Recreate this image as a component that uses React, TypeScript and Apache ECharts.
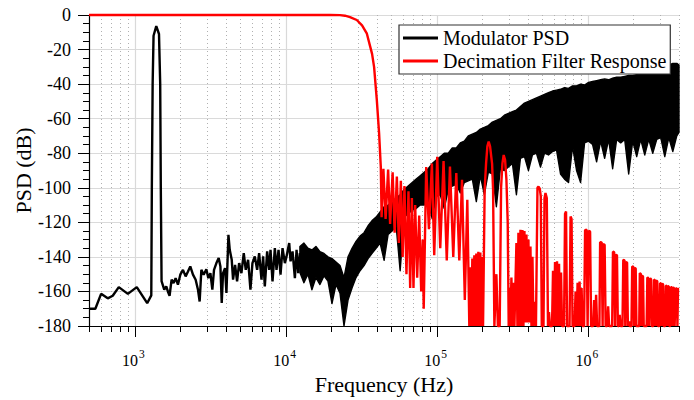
import React, { useEffect, useRef } from "react";
import * as echarts from "echarts";

const FONT = '"Liberation Serif", "Times New Roman", Times, serif';

// Frequencies are stored as log10(Hz), magnitudes in dB.
// Modulator PSD, low-frequency part (single trace incl. the test tone).
const psdLineLog10Hz = [
  2.699, 2.741, 2.779, 2.823, 2.856, 2.896, 2.956, 3.015, 3.084, 3.111,
  3.1147, 3.12, 3.126, 3.144, 3.162, 3.17, 3.174, 3.179,
  3.1967, 3.21, 3.2208, 3.232, 3.2454, 3.2586, 3.272, 3.2873, 3.303, 3.3205,
  3.3382, 3.3537, 3.369, 3.3868, 3.4045, 3.42, 3.431, 3.4423, 3.4576, 3.4753,
  3.4885, 3.502, 3.515, 3.526, 3.5418, 3.557, 3.5683, 3.577, 3.5858, 3.599,
  3.6081, 3.6214, 3.63, 3.6432, 3.652, 3.6654, 3.6786, 3.692, 3.7073, 3.7228,
  3.736, 3.7515, 3.767, 3.7802, 3.7957, 3.8112, 3.8245, 3.84, 3.851, 3.862,
  3.8775, 3.8908, 3.8997, 3.913, 3.9284, 3.9395, 3.9528, 3.966, 3.9793, 3.9947,
  4.0058, 4.0235, 4.0323, 4.0455, 4.061, 4.0721, 4.083, 4.094,
];
const psdLineDb = [
  -170, -170, -161.4, -164, -162.5, -157.5, -161.4, -157.5, -166.8, -162.3,
  -100, -40, -12, -6.4, -11, -40, -100, -154,
  -159, -157.1, -160, -162.5, -153.2, -155.2, -152.3, -156.1, -150.3, -147.5,
  -151.3, -148.4, -145.5, -150.3, -153.2, -159, -165.8, -147.5, -150.3, -147.1,
  -152.3, -149.4, -159, -147.5, -143.6, -140.7, -145.5, -166.7, -149.4, -146.5,
  -160.9, -127.2, -135.9, -141.7, -153.2, -144.6, -154.2, -143.6, -149.4, -137.8,
  -147.5, -141.7, -159, -143.6, -139.7, -147.5, -137.8, -153.2, -139.7, -157.1,
  -136.8, -147.5, -135.9, -154.2, -134.9, -147.5, -135.9, -150.3, -134.9, -143.6,
  -139.7, -132, -142.6, -136.8, -152.3, -135.9, -149.4, -137.8,
];

// Modulator PSD, high-frequency noise band: upper and lower envelope.
const bandLog10Hz = [
  4.0942, 4.1207, 4.1472, 4.1737, 4.2003, 4.2268, 4.2533, 4.2798, 4.3064, 4.3329,
  4.3594, 4.3859, 4.4125, 4.439, 4.4655, 4.492, 4.5186, 4.5451, 4.5716, 4.5981,
  4.6247, 4.6512, 4.6777, 4.7042, 4.7308, 4.7573, 4.7838, 4.8103, 4.8369, 4.8634,
  4.8899, 4.9164, 4.943, 4.9695, 4.996, 5.0225, 5.0491, 5.0756, 5.1021, 5.1286,
  5.1552, 5.1817, 5.2082, 5.2347, 5.2613, 5.2878, 5.3143, 5.3408, 5.3674, 5.3939,
  5.4204, 5.4469, 5.4735, 5.5, 5.5265, 5.553, 5.5796, 5.6061, 5.6326, 5.6591,
  5.6857, 5.7122, 5.7387, 5.7652, 5.7918, 5.8183, 5.8448, 5.8713, 5.8979, 5.9244,
  5.9509, 5.9774, 6.004, 6.0305, 6.057, 6.0836, 6.1101, 6.1366, 6.1631, 6.1897,
  6.2162, 6.2427, 6.2692, 6.2958, 6.3223, 6.3488, 6.3753, 6.4019, 6.4284, 6.4549,
  6.4814, 6.508, 6.5345, 6.561, 6.5875, 6.602,
];
const bandTopDb = [
  -134, -132, -135, -136, -134, -137, -138, -140, -141, -143,
  -145, -152, -140, -135, -131, -128, -126, -122, -119, -117,
  -114, -111, -110, -108, -106, -104, -101, -99, -97, -95,
  -93, -91, -89, -86, -84, -82, -80, -80, -77, -77,
  -74, -73, -70, -69, -68, -66, -65, -64, -62, -61,
  -60, -58, -57, -56, -55, -53, -51, -50, -49, -48,
  -47, -46, -45, -44, -43.5, -43, -42, -42.5, -41, -41,
  -40, -40.5, -39, -38.5, -38, -37.5, -37, -37.5, -36.5, -36,
  -36, -35.5, -35, -35, -34.5, -34, -34, -33, -32.5, -32,
  -31, -30, -29, -28, -28, -29,
];
const bandBottomDb = [
  -149, -155, -150, -159, -152, -156, -151, -154, -167, -156,
  -161, -180, -165, -158, -152, -148, -145, -141, -138, -135,
  -132, -142, -127, -125, -122, -148, -117, -115, -113, -112,
  -110, -110, -108, -118, -105, -104, -112, -101, -99, -98,
  -103, -97, -96, -95, -108, -93, -104, -91, -92, -111,
  -89, -90, -88, -86, -104, -83, -82, -90, -81, -80,
  -88, -80, -81, -79, -78, -92, -95, -97, -76, -90,
  -97, -74, -73, -75, -85, -73, -83, -72, -89, -72,
  -74, -72, -92, -73, -82, -72, -81, -72, -80, -72,
  -71, -82, -71, -79, -70, -68,
];

// Decimation filter magnitude response.
const filterLog10Hz = [
  2.699, 4.2931, 4.3594, 4.3926, 4.4257, 4.4702, 4.5053, 4.5365, 4.5584, 4.5716,
  4.5849, 4.6028, 4.6181, 4.6294, 4.6347, 4.6466, 4.6612, 4.6778, 4.691, 4.7076,
  4.7209, 4.7355, 4.7487, 4.762, 4.7739, 4.7858, 4.7991, 4.8124, 4.8236, 4.8349,
  4.8455, 4.8568, 4.87, 4.8833, 4.8966, 4.9065, 4.9132, 4.9297, 4.9476, 4.9675,
  4.9828, 5.0027, 5.0226, 5.0445, 5.0657, 5.0869, 5.1088, 5.1287, 5.1486, 5.1665,
  5.1851, 5.2016, 5.2149, 5.2215, 5.2281, 5.2348, 5.2414, 5.248, 5.2547, 5.2613,
  5.2679, 5.2746, 5.2812, 5.2878, 5.2945, 5.3011, 5.3057, 5.3164, 5.3257, 5.3343,
  5.3429, 5.3522, 5.3655, 5.3721, 5.3807, 5.394, 5.4039, 5.4158, 5.4251, 5.4337,
  5.4423, 5.4516, 5.4602, 5.4689, 5.4755, 5.4801, 5.4868, 5.4934, 5.5, 5.5066,
  5.5133, 5.5265, 5.5332, 5.5398, 5.5464, 5.5531, 5.5597, 5.5663, 5.573, 5.5796,
  5.5862, 5.5929, 5.5995, 5.6061, 5.6128, 5.6194, 5.626, 5.6326, 5.6393, 5.6459,
  5.6558, 5.6658, 5.6724, 5.681, 5.6877, 5.6943, 5.7056, 5.7122, 5.7188, 5.7274,
  5.7354, 5.742, 5.7487, 5.762, 5.7686, 5.7752, 5.7819, 5.7885, 5.7951, 5.8018,
  5.8084, 5.815, 5.8217, 5.8283, 5.8415, 5.8482, 5.8548, 5.8614, 5.878, 5.8847,
  5.8913, 5.8979, 5.9112, 5.9178, 5.9244, 5.9311, 5.9377, 5.9443, 5.951, 5.9576,
  5.9642, 5.9742, 5.9808, 5.9907, 5.9974, 6.004, 6.0139, 6.0206, 6.0338, 6.0405,
  6.0471, 6.0537, 6.0604, 6.0756, 6.0803, 6.0902, 6.0968, 6.1008, 6.1101, 6.1167,
  6.1267, 6.1333, 6.1399, 6.1599, 6.1652, 6.1731, 6.1791, 6.183, 6.1917, 6.1976,
  6.2043, 6.2096, 6.2162, 6.2282, 6.2334, 6.2414, 6.2467, 6.2507, 6.2586, 6.2639,
  6.2725, 6.2758, 6.2878, 6.2924, 6.3004, 6.305, 6.309, 6.3156, 6.3203, 6.3389,
  6.3429, 6.3502, 6.3541, 6.3575, 6.3641, 6.3687, 6.388, 6.3926, 6.3992, 6.4039,
  6.4105, 6.4171, 6.4218, 6.4317, 6.4364, 6.4423, 6.447, 6.4516, 6.4582, 6.4629,
  6.4722, 6.4768, 6.4828, 6.4868, 6.4907, 6.4967, 6.5013, 6.5106, 6.5146, 6.5205,
  6.5245, 6.5285, 6.5345, 6.5385, 6.5444, 6.5484, 6.5544, 6.5584, 6.563, 6.569,
  6.573, 6.577, 6.5809, 6.5876, 6.5916, 6.5955, 6.602,
];
const filterDb = [
  0, 0, -0.1, -0.4, -1.2, -2.9, -6, -10.6, -18, -22.5,
  -30, -49, -68.5, -88, -117, -89, -118, -89.5, -121, -91,
  -126, -93.5, -132, -96, -140, -99, -150, -102, -158, -106,
  -158, -110, -152, -116, -160, -130, -170, -88, -124, -86,
  -139, -82, -135, -84.5, -142, -87.7, -140, -91.5, -142, -95.4,
  -165, -107, -180, -146, -180, -141, -180, -139, -180, -138,
  -180, -137, -180, -137.5, -180, -140, -180, -101, -86, -76,
  -73.3, -76, -86, -101, -180, -150, -180, -180, -100, -86,
  -81, -84, -95, -120, -180, -158, -180, -152, -180, -155,
  -180, -132, -180, -126, -180, -124.3, -180, -124.5, -180, -125,
  -178, -127, -178, -130, -178, -134, -180, -140, -180, -166,
  -180, -100, -99.3, -100.5, -105, -180, -180, -106, -103, -106,
  -180, -172, -180, -180, -148, -180, -143, -180, -142.6, -180,
  -144, -180, -149, -180, -180, -115, -113.7, -180, -180, -116.6,
  -118, -180, -180, -160, -180, -155, -180, -154.2, -180, -158,
  -180, -180, -124.5, -124.3, -180, -125, -125.3, -180, -180, -165,
  -180, -162, -180, -180, -131.5, -131.6, -180, -132.6, -133, -180,
  -180, -168.6, -180, -180, -137, -137.2, -180, -138.8, -139, -180,
  -180, -173.5, -180, -180, -141.7, -142, -180, -143, -143.3, -180,
  -177.3, -180, -180, -145.5, -145.8, -180, -146.5, -146.7, -180, -180,
  -149.4, -150, -180, -151, -151.3, -180, -180, -152, -152.2, -180,
  -152.6, -152.8, -180, -180, -153.2, -153.4, -180, -153.8, -154, -180,
  -180, -155.2, -155.3, -180, -155.6, -155.8, -180, -180, -156.7, -156.8,
  -180, -157, -157.1, -180, -180, -157.5, -157.6, -180, -157.8, -157.9,
  -180, -180, -158.2, -158.3, -180, -158.5, -158.6,
];

// Axis ticks and tick labels
const decadeHz = [1e3, 1e4, 1e5, 1e6];
const decadeExponent = ["3", "4", "5", "6"];
const minorHz = [
  500, 600, 700, 800, 900,
  2000, 3000, 4000, 5000, 6000, 7000, 8000, 9000,
  20000, 30000, 40000, 50000, 60000, 70000, 80000, 90000,
  200000, 300000, 400000, 500000, 600000, 700000, 800000, 900000,
  2000000, 3000000, 4000000,
];
const yTickDb = [0, -20, -40, -60, -80, -100, -120, -140, -160, -180];
const xMinHz = 500;
const xMaxHz = 4000000;
const yMinDb = -180;
const yMaxDb = 0;
const yStepDb = 20;

export default function App() {
  const ref = useRef<HTMLDivElement>(null);

  useEffect(() => {
    if (!ref.current) return;
    const chart = echarts.init(ref.current, null, { renderer: "svg" });
    const toHz = (e: number) => Math.pow(10, e);

    const psdLine = psdLineLog10Hz.map((e, i) => [toHz(e), psdLineDb[i]]);
    const band = bandLog10Hz.map((e, i) => [toHz(e), bandBottomDb[i], bandTopDb[i]]);
    const filter = filterLog10Hz.map((e, i) => [toHz(e), filterDb[i]]);
    const gridData = [
      ...minorHz.map((f) => [f, -90, 0]),
      ...decadeHz.map((f) => [f, -90, 1]),
    ];
    const xLabelData = decadeHz.map((f, i) => [f, yMinDb, decadeExponent[i]]);
    const yLabelData = yTickDb.map((v) => [xMinHz, v]);

    const option: any = {
      animation: false,
      backgroundColor: "#ffffff",
      textStyle: { fontFamily: FONT, color: "#000" },
      grid: {
        left: 89,
        right: 15,
        top: 15,
        bottom: 74,
        containLabel: false,
        outerBoundsMode: "none",
      },
      legend: {
        orient: "vertical",
        left: 399,
        top: 25,
        padding: [3, 4, 3, 4],
        itemGap: 3,
        itemWidth: 35,
        itemHeight: 3,
        icon: "rect",
        backgroundColor: "#ffffff",
        borderColor: "#333333",
        borderWidth: 1.2,
        borderRadius: 0,
        textStyle: { fontFamily: FONT, fontSize: 20, color: "#000" },
        data: ["Modulator PSD", "Decimation Filter Response"],
      },
      xAxis: {
        type: "log",
        logBase: 10,
        min: xMinHz,
        max: xMaxHz,
        name: "Frequency (Hz)",
        nameLocation: "middle",
        nameGap: 47,
        nameMoveOverlap: false,
        nameTextStyle: { fontFamily: FONT, fontSize: 22, color: "#000" },
        axisLine: { show: true, onZero: false, lineStyle: { color: "#000", width: 1.2 } },
        axisTick: { show: false },
        minorTick: { show: false },
        splitLine: { show: false },
        minorSplitLine: { show: false },
        axisLabel: { show: false },
      },
      yAxis: {
        type: "value",
        min: yMinDb,
        max: yMaxDb,
        interval: yStepDb,
        name: "PSD (dB)",
        nameLocation: "middle",
        nameGap: 55,
        nameMoveOverlap: false,
        nameTextStyle: { fontFamily: FONT, fontSize: 22, color: "#000" },
        axisLine: { show: true, onZero: false, lineStyle: { color: "#000", width: 1.2 } },
        axisTick: { show: true, inside: false, length: 11, lineStyle: { color: "#000", width: 1 } },
        minorTick: { show: true, splitNumber: 4, length: 6, lineStyle: { color: "#000", width: 1 } },
        splitLine: { show: true, lineStyle: { color: "#dadada", width: 1.2 } },
        minorSplitLine: { show: false },
        axisLabel: { show: false },
      },
      series: [
        {
          type: "custom",
          name: "frequency grid",
          silent: true,
          z: 1,
          coordinateSystem: "cartesian2d",
          encode: { x: 0, y: 1 },
          data: gridData,
          renderItem: (params: any, api: any) => {
            const hz = api.value(0);
            const major = api.value(2) === 1;
            const top = api.coord([hz, yMaxDb]);
            const bottom = api.coord([hz, yMinDb]);
            const x = Math.round(top[0]) + 0.5;
            const children: any[] = [];
            if (Math.abs(top[0] - params.coordSys.x) > 1) {
              children.push({
                type: "line",
                shape: { x1: x, y1: top[1], x2: x, y2: bottom[1] },
                style: major
                  ? { stroke: "#d9d9d9", lineWidth: 1.2 }
                  : { stroke: "#b0b0b0", lineWidth: 1, lineDash: [1, 3] },
              });
            }
            children.push({
              type: "line",
              shape: { x1: x, y1: bottom[1], x2: x, y2: bottom[1] + (major ? 11 : 6) },
              style: { stroke: "#000", lineWidth: 1 },
            });
            return { type: "group", children };
          },
        },
        {
          type: "custom",
          name: "y tick labels",
          silent: true,
          z: 5,
          coordinateSystem: "cartesian2d",
          encode: { x: 0, y: 1 },
          data: yLabelData,
          renderItem: (params: any, api: any) => {
            const v = api.value(1);
            const p = api.coord([api.value(0), v]);
            return {
              type: "text",
              x: params.coordSys.x - 18,
              y: p[1],
              style: {
                text: String(v),
                fill: "#000",
                fontSize: 18,
                fontFamily: FONT,
                align: "right",
                verticalAlign: "middle",
              },
            };
          },
        },
        {
          type: "custom",
          name: "x tick labels",
          silent: true,
          z: 5,
          coordinateSystem: "cartesian2d",
          encode: { x: 0, y: 1 },
          dimensions: ["hz", "db", { name: "exp", type: "ordinal" }],
          data: xLabelData,
          renderItem: (params: any, api: any) => {
            const idx = params.dataIndex;
            const p = api.coord([api.value(0), api.value(1)]);
            return {
              type: "group",
              children: [
                {
                  type: "text",
                  x: p[0] + 3.5,
                  y: p[1] + 34,
                  style: {
                    text: "10",
                    fill: "#000",
                    fontSize: 16,
                    fontFamily: FONT,
                    align: "right",
                    verticalAlign: "middle",
                  },
                },
                {
                  type: "text",
                  x: p[0] + 4.5,
                  y: p[1] + 27.5,
                  style: {
                    text: decadeExponent[idx],
                    fill: "#000",
                    fontSize: 11.5,
                    fontFamily: FONT,
                    align: "left",
                    verticalAlign: "middle",
                  },
                },
              ],
            };
          },
        },
        {
          type: "line",
          name: "Modulator PSD",
          data: psdLine,
          color: "#000000",
          itemStyle: { color: "#000000" },
          lineStyle: { color: "#000000", width: 2.4 },
          showSymbol: false,
          symbol: "none",
          clip: false,
          silent: true,
          z: 2,
        },
        {
          type: "custom",
          name: "Modulator PSD band",
          silent: true,
          z: 2,
          coordinateSystem: "cartesian2d",
          encode: { x: 0, y: [1, 2] },
          data: band,
          renderItem: (params: any, api: any) => {
            if (params.dataIndexInside !== 0) return null;
            const n = params.dataInsideLength;
            const upper: number[][] = [];
            const lower: number[][] = [];
            for (let i = 0; i < n; i++) {
              const hz = api.value(0, i);
              upper.push(api.coord([hz, api.value(2, i)]));
              lower.push(api.coord([hz, api.value(1, i)]));
            }
            return {
              type: "polygon",
              shape: { points: upper.concat(lower.reverse()) },
              style: { fill: "#000", stroke: "#000", lineWidth: 1.4, lineJoin: "round" },
            };
          },
        },
        {
          type: "line",
          name: "Decimation Filter Response",
          data: filter,
          color: "#ff0000",
          itemStyle: { color: "#ff0000" },
          lineStyle: { color: "#ff0000", width: 2.4 },
          showSymbol: false,
          symbol: "none",
          clip: false,
          silent: true,
          z: 3,
        },
      ],
    };

    chart.setOption(option);
    return () => chart.dispose();
  }, []);

  return (
    <div
      ref={ref}
      style={{ position: "fixed", left: 0, top: 0, width: 694, height: 400 }}
    />
  );
}
